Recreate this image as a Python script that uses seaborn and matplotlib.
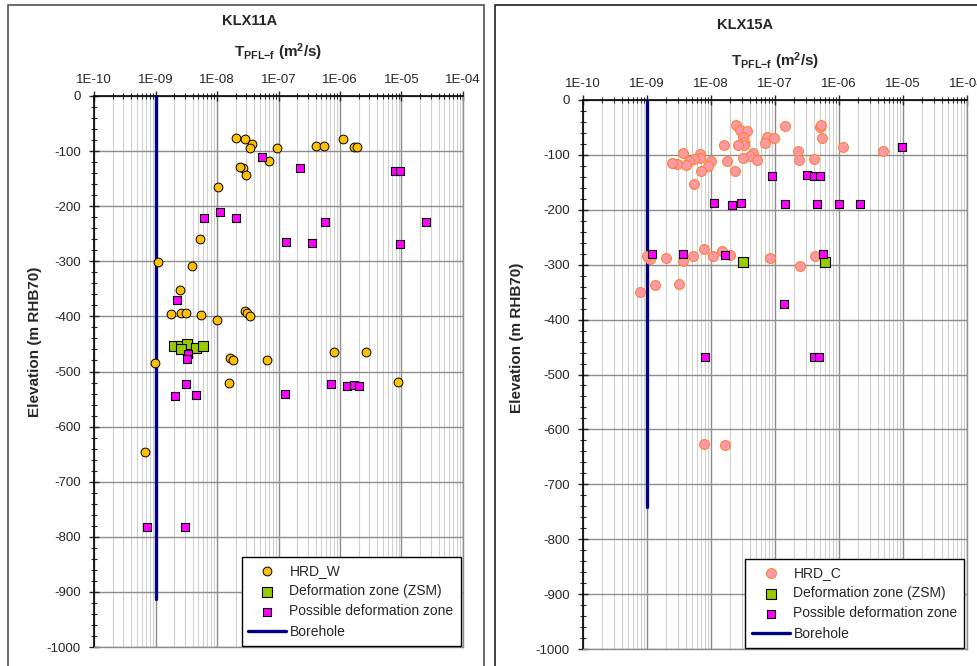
import numpy as np
import pandas as pd
import matplotlib
matplotlib.use("Agg")
import matplotlib.pyplot as plt
import matplotlib.ticker as mticker
from matplotlib.patches import Rectangle
import seaborn as sns

# ---------------- data ----------------
# KLX11A
w_hrd_t = [2.0e-8, 2.9e-8, 3.7e-8, 3.5e-8, 9.3e-8, 4.1e-7, 5.5e-7, 1.1e-6, 1.7e-6, 1.9e-6,
           2.6e-8, 2.4e-8, 3.0e-8, 7.1e-8, 1.05e-8, 5.2e-9, 1.1e-9, 3.9e-9, 2.5e-9,
           1.8e-9, 2.6e-9, 3.1e-9, 5.5e-9, 1.0e-8, 2.9e-8, 3.1e-8, 3.5e-8,
           9.8e-10, 1.6e-8, 1.8e-8, 6.6e-8, 7.9e-7, 2.6e-6, 8.9e-6, 1.55e-8, 6.8e-10]
w_hrd_z = [-76, -78, -87, -94, -95, -90, -90, -78, -93, -93,
           -130, -128, -144, -118, -165, -259, -302, -308, -352,
           -395, -394, -394, -398, -407, -391, -393, -399,
           -484, -476, -479, -480, -464, -465, -519, -521, -646]
w_zsm_t = [2.0e-9, 2.6e-9, 3.2e-9, 2.6e-9, 4.5e-9, 5.9e-9]
w_zsm_z = [-453, -453, -450, -459, -458, -453]
w_pos_t = [5.3e-8, 2.2e-7, 7.8e-6, 9.6e-6, 6.2e-9, 1.1e-8, 2.0e-8, 5.8e-7, 2.5e-5,
           1.3e-7, 3.5e-7, 9.6e-6, 2.2e-9, 3.4e-9, 3.3e-9, 3.1e-9, 2.1e-9, 4.6e-9,
           1.26e-7, 7.2e-7, 1.3e-6, 1.7e-6, 2.0e-6, 7.2e-10, 3.0e-9]
w_pos_z = [-111, -130, -137, -137, -222, -211, -221, -228, -228,
           -265, -266, -269, -370, -469, -477, -523, -545, -543,
           -541, -523, -527, -525, -527, -782, -782]
w_bh_t = [1e-9, 1e-9]
w_bh_z = [0, -913]

# KLX15A
c_hrd_t = [2.45e-8, 2.8e-8, 3.6e-8, 3.2e-8, 3.3e-8, 3.3e-8, 2.6e-8, 1.6e-8, 1.45e-7, 7.6e-8,
           9.8e-8, 7.1e-8, 4.5e-8, 4.0e-8, 3.2e-8, 5.2e-8, 1.8e-8, 2.4e-8, 2.3e-7, 2.4e-7,
           4.1e-7, 5.0e-7, 5.2e-7, 5.4e-7, 1.15e-6, 4.9e-6, 3.7e-9, 6.8e-9, 6.8e-9, 5.5e-9,
           4.6e-9, 4.1e-9, 2.9e-9, 2.5e-9, 1.0e-8, 8.9e-9, 6.9e-9, 5.4e-9,
           7.7e-9, 1.5e-8, 2.0e-8, 1.07e-8, 5.2e-9, 3.6e-9, 2.0e-9, 1.1e-9, 1.0e-9,
           8.3e-8, 2.5e-7, 4.2e-7, 1.35e-9, 3.2e-9, 7.8e-10, 7.7e-9, 1.65e-8]
c_hrd_z = [-45, -55, -56, -68, -76, -82, -82, -82, -47, -67,
           -70, -79, -96, -102, -105, -110, -112, -129, -93, -109,
           -108, -49, -46, -69, -85, -92, -96, -99, -105, -108,
           -112, -118, -116, -115, -111, -121, -129, -153,
           -272, -275, -282, -285, -285, -293, -287, -290, -284,
           -287, -302, -285, -337, -335, -350, -626, -628]
c_zsm_t = [3.2e-8, 6.0e-7]
c_zsm_z = [-295, -295]
c_pos_t = [9.6e-6, 9.1e-8, 3.2e-7, 4.0e-7, 5.1e-7, 1.1e-8, 2.1e-8, 2.9e-8, 1.45e-7,
           4.5e-7, 1.0e-6, 2.1e-6, 1.2e-9, 3.7e-9, 1.66e-8, 5.6e-7, 1.4e-7,
           8.1e-9, 4.0e-7, 4.9e-7]
c_pos_z = [-85, -138, -136, -138, -138, -188, -192, -188, -190,
           -190, -190, -190, -281, -281, -283, -281, -372,
           -468, -468, -468]
c_bh_t = [1e-9, 1e-9]
c_bh_z = [0, -742]

x_ticks = [1e-10, 1e-9, 1e-8, 1e-7, 1e-6, 1e-5, 1e-4]
x_ticklabels = ["1E-10", "1E-09", "1E-08", "1E-07", "1E-06", "1E-05", "1E-04"]
y_ticks = list(range(0, -1001, -100))

# ---------------- style ----------------
sns.set_style("white")
plt.rcParams["font.family"] = ["Liberation Sans", "DejaVu Sans"]
plt.rcParams["mathtext.fontset"] = "custom"
plt.rcParams["mathtext.rm"] = "Liberation Sans:bold"
plt.rcParams["mathtext.it"] = "Liberation Sans:bold"
plt.rcParams["mathtext.bf"] = "Liberation Sans:bold"

fig = plt.figure(figsize=(9.78, 6.66), dpi=100)
W, H = 978, 666

def fx(px):
    return px / W

def fy(py):
    return 1 - py / H

# outer frames
fig.patches.append(Rectangle((fx(8), fy(672)), fx(484) - fx(8), fy(5) - fy(672),
                             transform=fig.transFigure, fill=False, edgecolor="#505050", lw=1.2))
fig.patches.append(Rectangle((fx(495), fy(672)), fx(995) - fx(495), fy(5) - fy(672),
                             transform=fig.transFigure, fill=False, edgecolor="#202020", lw=1.2))

panels = [
    dict(box=(94, 96, 463, 647), title="KLX11A", title_x=250, title_y=21, ylab_x=35, ylab_y=342,
         hrd=(w_hrd_t, w_hrd_z), zsm=(w_zsm_t, w_zsm_z), pos=(w_pos_t, w_pos_z),
         bh=(w_bh_t, w_bh_z), hrd_label="HRD_W", hrd_color="#FFC000", hrd_edge="#000000",
         hrd_size=40, hrd_lw=0.7, xpad=4, lpad=12),
    dict(box=(583, 100, 967, 649), title="KLX15A", title_x=745, title_y=25, ylab_x=517, ylab_y=338,
         hrd=(c_hrd_t, c_hrd_z), zsm=(c_zsm_t, c_zsm_z), pos=(c_pos_t, c_pos_z),
         bh=(c_bh_t, c_bh_z), hrd_label="HRD_C", hrd_color="#FF99A8", hrd_edge="#FF8030",
         hrd_size=50, hrd_lw=0.8, xpad=4, lpad=8),
]

for p in panels:
    l, t, r, b = p["box"]
    ax = fig.add_axes([fx(l), fy(b), fx(r) - fx(l), fy(t) - fy(b)])
    ax.set_xscale("log")
    ax.set_xlim(1e-10, 1e-4)
    ax.set_ylim(-1000, 0)

    # grid
    ax.set_axisbelow(True)
    ax.xaxis.set_minor_locator(mticker.LogLocator(base=10, subs=np.arange(2, 10), numticks=20))
    ax.yaxis.set_minor_locator(mticker.MultipleLocator(20))
    ax.grid(which="major", axis="both", color="#8C8C8C", lw=1.0)
    ax.grid(which="minor", axis="x", color="#D0D0D0", lw=0.8)

    # borehole
    bh = pd.DataFrame({"t": p["bh"][0], "z": p["bh"][1]})
    sns.lineplot(data=bh, x="t", y="z", ax=ax, color="#000080", lw=2.4, sort=False,
                 estimator=None, label="Borehole", legend=False, zorder=3)

    hrd = pd.DataFrame({"t": p["hrd"][0], "z": p["hrd"][1]})
    sns.scatterplot(data=hrd, x="t", y="z", ax=ax, marker="o", s=p["hrd_size"],
                    color=p["hrd_color"], edgecolor=p["hrd_edge"], linewidth=p["hrd_lw"],
                    label=p["hrd_label"], legend=False, zorder=4)
    zsm = pd.DataFrame({"t": p["zsm"][0], "z": p["zsm"][1]})
    sns.scatterplot(data=zsm, x="t", y="z", ax=ax, marker="s", s=48,
                    color="#99CC00", edgecolor="black", linewidth=0.8,
                    label="Deformation zone (ZSM)", legend=False, zorder=5)
    pos = pd.DataFrame({"t": p["pos"][0], "z": p["pos"][1]})
    sns.scatterplot(data=pos, x="t", y="z", ax=ax, marker="s", s=28,
                    color="#FF00FF", edgecolor="black", linewidth=0.8,
                    label="Possible deformation zone", legend=False, zorder=6)

    ax.set_xlim(1e-10, 1e-4)
    ax.set_ylim(-1000, 0)

    # axes styling
    ax.xaxis.tick_top()
    ax.set_xticks(x_ticks)
    ax.set_xticklabels(x_ticklabels)
    ax.set_yticks(y_ticks)
    ax.set_yticklabels([str(v) for v in y_ticks])
    ax.tick_params(axis="x", which="major", direction="inout", length=7, width=1,
                   labelsize=9.5, pad=p["xpad"], top=True, bottom=False,
                   labeltop=True, labelbottom=False)
    ax.tick_params(axis="x", which="minor", direction="inout", length=4, width=0.8,
                   top=True, bottom=False)
    ax.tick_params(axis="y", which="major", direction="inout", length=7, width=1,
                   labelsize=9.5, pad=6, left=True)
    ax.tick_params(axis="y", which="minor", direction="inout", length=4, width=0.8, left=True)
    for side in ["left", "top"]:
        ax.spines[side].set_color("black")
        ax.spines[side].set_linewidth(1.2)
    for side in ["right", "bottom"]:
        ax.spines[side].set_color("#8C8C8C")
        ax.spines[side].set_linewidth(1.0)

    ax.set_xlabel(r"T$_{PFL{-}f}$ (m$^{2}$/s)", fontsize=11, fontweight="bold",
                  labelpad=p["lpad"])
    ax.xaxis.set_label_position("top")
    ax.set_ylabel("")
    fig.text(fx(p["ylab_x"]), fy(p["ylab_y"]), "Elevation (m RHB70)", rotation=90,
             ha="center", va="center", fontsize=11, fontweight="bold")
    fig.text(fx(p["title_x"]), fy(p["title_y"]), p["title"], ha="center", va="center",
             fontsize=10.5, fontweight="bold")

    handles, labels = ax.get_legend_handles_labels()
    order = [labels.index(p["hrd_label"]), labels.index("Deformation zone (ZSM)"),
             labels.index("Possible deformation zone"), labels.index("Borehole")]
    leg = ax.legend([handles[i] for i in order], [labels[i] for i in order],
                    loc="lower right", bbox_to_anchor=(0.997, 0.0), fontsize=10,
                    frameon=True, fancybox=False, framealpha=1, edgecolor="black",
                    borderaxespad=0.1, handlelength=2.7, handletextpad=0.25,
                    labelspacing=0.45, borderpad=0.5)
    leg.get_frame().set_linewidth(1.0)
    leg.set_zorder(10)

fig.savefig("out.png", dpi=100)
